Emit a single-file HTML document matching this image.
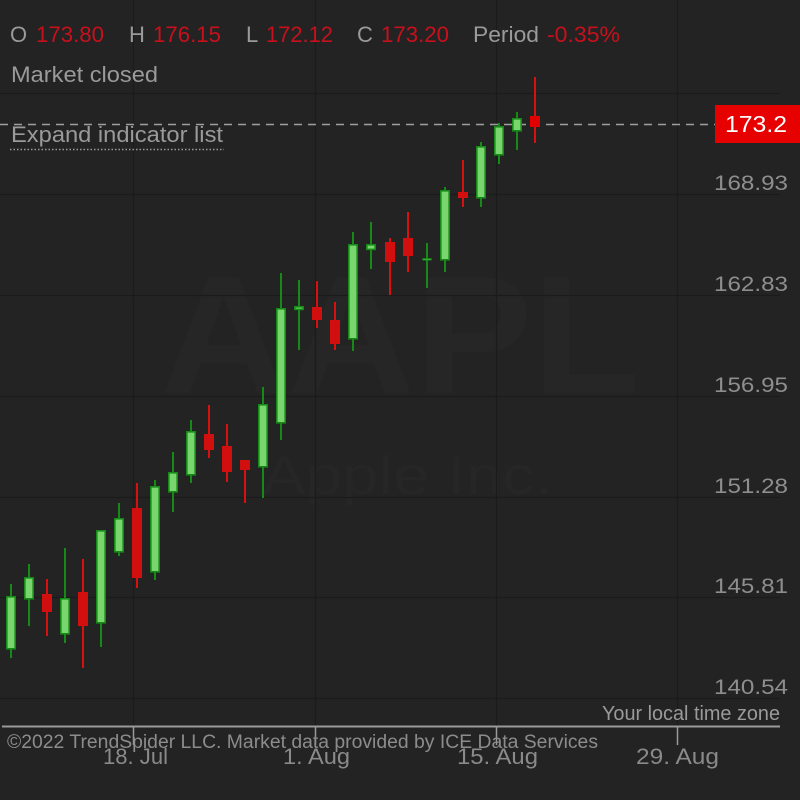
<!DOCTYPE html>
<html><head><meta charset="utf-8"><style>
html,body{margin:0;padding:0;background:#232323;}
svg{display:block;}
text{font-family:"Liberation Sans","DejaVu Sans",sans-serif;}
</style></head><body>
<svg width="800" height="800" viewBox="0 0 800 800" xmlns="http://www.w3.org/2000/svg">
<rect width="800" height="800" fill="#232323"/>
<!-- watermark -->
<text x="160" y="393" font-size="168" fill="#262626" font-weight="bold" textLength="480" lengthAdjust="spacingAndGlyphs">AAPL</text>
<text x="262" y="494" font-size="54" fill="#262626" textLength="291" lengthAdjust="spacingAndGlyphs">Apple Inc.</text>
<!-- grid -->
<g stroke="#1b1b1b" stroke-width="1.2">
<line x1="0" y1="93.5" x2="780" y2="93.5"/>
<line x1="0" y1="194.5" x2="780" y2="194.5"/>
<line x1="0" y1="295.5" x2="780" y2="295.5"/>
<line x1="0" y1="396.5" x2="780" y2="396.5"/>
<line x1="0" y1="497.5" x2="780" y2="497.5"/>
<line x1="0" y1="597.5" x2="780" y2="597.5"/>
<line x1="0" y1="698.5" x2="780" y2="698.5"/>
<line x1="133.5" y1="0" x2="133.5" y2="726"/>
<line x1="315.5" y1="0" x2="315.5" y2="726"/>
<line x1="496.5" y1="0" x2="496.5" y2="726"/>
<line x1="677.5" y1="0" x2="677.5" y2="726"/>
</g>
<!-- price line -->
<line x1="0" y1="124.5" x2="715" y2="124.5" stroke="#9e9e9e" stroke-width="1.5" stroke-dasharray="8 6"/>
<rect x="715" y="105" width="85" height="38" fill="#e60000"/>
<text x="725" y="132" font-size="23" fill="#ffffff" textLength="62" lengthAdjust="spacingAndGlyphs">173.2</text>
<!-- candles -->
<g id="candles">
<g stroke-width="2">
<line x1="11" y1="584" x2="11" y2="658" stroke="#168a16"/>
<line x1="29" y1="564" x2="29" y2="626" stroke="#168a16"/>
<line x1="47" y1="579" x2="47" y2="636" stroke="#d81010"/>
<line x1="65" y1="548" x2="65" y2="643" stroke="#168a16"/>
<line x1="83" y1="559" x2="83" y2="668" stroke="#d81010"/>
<line x1="101" y1="530" x2="101" y2="647" stroke="#168a16"/>
<line x1="119" y1="503" x2="119" y2="556" stroke="#168a16"/>
<line x1="137" y1="483" x2="137" y2="588" stroke="#d81010"/>
<line x1="155" y1="480" x2="155" y2="580" stroke="#168a16"/>
<line x1="173" y1="452" x2="173" y2="512" stroke="#168a16"/>
<line x1="191" y1="420" x2="191" y2="483" stroke="#168a16"/>
<line x1="209" y1="405" x2="209" y2="458" stroke="#d81010"/>
<line x1="227" y1="424" x2="227" y2="482" stroke="#d81010"/>
<line x1="245" y1="460" x2="245" y2="503" stroke="#d81010"/>
<line x1="263" y1="387" x2="263" y2="498" stroke="#168a16"/>
<line x1="281" y1="273" x2="281" y2="440" stroke="#168a16"/>
<line x1="299" y1="280" x2="299" y2="350" stroke="#168a16"/>
<line x1="317" y1="281" x2="317" y2="328" stroke="#d81010"/>
<line x1="335" y1="302" x2="335" y2="350" stroke="#d81010"/>
<line x1="353" y1="232" x2="353" y2="351" stroke="#168a16"/>
<line x1="371" y1="222" x2="371" y2="269" stroke="#168a16"/>
<line x1="390" y1="238" x2="390" y2="295" stroke="#d81010"/>
<line x1="408" y1="212" x2="408" y2="272" stroke="#d81010"/>
<line x1="427" y1="243" x2="427" y2="288" stroke="#168a16"/>
<line x1="445" y1="187" x2="445" y2="272" stroke="#168a16"/>
<line x1="463" y1="160" x2="463" y2="207" stroke="#d81010"/>
<line x1="481" y1="142" x2="481" y2="207" stroke="#168a16"/>
<line x1="499" y1="123" x2="499" y2="164" stroke="#168a16"/>
<line x1="517" y1="112" x2="517" y2="150" stroke="#168a16"/>
<line x1="535" y1="77" x2="535" y2="143" stroke="#d81010"/>
</g>
<g stroke-width="1.6">
<rect x="6.8" y="596.8" width="8.4" height="52" fill="#79d66e" stroke="#168a16"/>
<rect x="24.8" y="577.8" width="8.4" height="21" fill="#79d66e" stroke="#168a16"/>
<rect x="42" y="594" width="10" height="18" fill="#d10f0f"/>
<rect x="60.8" y="598.8" width="8.4" height="35" fill="#79d66e" stroke="#168a16"/>
<rect x="78" y="592" width="10" height="34" fill="#d10f0f"/>
<rect x="96.8" y="530.8" width="8.4" height="92" fill="#79d66e" stroke="#168a16"/>
<rect x="114.8" y="518.8" width="8.4" height="33" fill="#79d66e" stroke="#168a16"/>
<rect x="132" y="508" width="10" height="70" fill="#d10f0f"/>
<rect x="150.8" y="486.8" width="8.4" height="85" fill="#79d66e" stroke="#168a16"/>
<rect x="168.8" y="472.8" width="8.4" height="19" fill="#79d66e" stroke="#168a16"/>
<rect x="186.8" y="431.8" width="8.4" height="43" fill="#79d66e" stroke="#168a16"/>
<rect x="204" y="434" width="10" height="16" fill="#d10f0f"/>
<rect x="222" y="446" width="10" height="26" fill="#d10f0f"/>
<rect x="240" y="460" width="10" height="10" fill="#d10f0f"/>
<rect x="258.8" y="404.8" width="8.4" height="62" fill="#79d66e" stroke="#168a16"/>
<rect x="276.8" y="308.8" width="8.4" height="114" fill="#79d66e" stroke="#168a16"/>
<rect x="294.8" y="306.8" width="8.4" height="2.6" fill="#79d66e" stroke="#168a16"/>
<rect x="312" y="307" width="10" height="13" fill="#d10f0f"/>
<rect x="330" y="320" width="10" height="24" fill="#d10f0f"/>
<rect x="348.8" y="244.8" width="8.4" height="94" fill="#79d66e" stroke="#168a16"/>
<rect x="366.8" y="244.8" width="8.4" height="4.6" fill="#79d66e" stroke="#168a16"/>
<rect x="385" y="242" width="10" height="20" fill="#d10f0f"/>
<rect x="403" y="238" width="10" height="18" fill="#d10f0f"/>
<rect x="422.8" y="258.6" width="8.4" height="1.4" fill="#79d66e" stroke="#168a16" stroke-width="1"/>
<rect x="440.8" y="190.8" width="8.4" height="69" fill="#79d66e" stroke="#168a16"/>
<rect x="458" y="192" width="10" height="6" fill="#d10f0f"/>
<rect x="476.8" y="146.8" width="8.4" height="51" fill="#79d66e" stroke="#168a16"/>
<rect x="494.8" y="126.8" width="8.4" height="28" fill="#79d66e" stroke="#168a16"/>
<rect x="512.8" y="118.8" width="8.4" height="12" fill="#79d66e" stroke="#168a16"/>
<rect x="530" y="116" width="10" height="11" fill="#e00000"/>
</g>
</g>
<!-- y labels -->
<g font-size="21" fill="#8e8e8e" text-anchor="end">
<text x="788" y="190" textLength="74" lengthAdjust="spacingAndGlyphs">168.93</text>
<text x="788" y="291" textLength="74" lengthAdjust="spacingAndGlyphs">162.83</text>
<text x="788" y="392" textLength="74" lengthAdjust="spacingAndGlyphs">156.95</text>
<text x="788" y="493" textLength="74" lengthAdjust="spacingAndGlyphs">151.28</text>
<text x="788" y="593" textLength="74" lengthAdjust="spacingAndGlyphs">145.81</text>
<text x="788" y="694" textLength="74" lengthAdjust="spacingAndGlyphs">140.54</text>
</g>
<!-- header -->
<g font-size="22">
<text x="10" y="42" fill="#9a9a9a">O</text>
<text x="36" y="42" fill="#c8101c" textLength="68" lengthAdjust="spacingAndGlyphs">173.80</text>
<text x="129" y="42" fill="#9a9a9a">H</text>
<text x="153" y="42" fill="#c8101c" textLength="68" lengthAdjust="spacingAndGlyphs">176.15</text>
<text x="246" y="42" fill="#9a9a9a">L</text>
<text x="266" y="42" fill="#c8101c" textLength="67" lengthAdjust="spacingAndGlyphs">172.12</text>
<text x="357" y="42" fill="#9a9a9a">C</text>
<text x="381" y="42" fill="#c8101c" textLength="68" lengthAdjust="spacingAndGlyphs">173.20</text>
<text x="473" y="42" fill="#9a9a9a" textLength="66" lengthAdjust="spacingAndGlyphs">Period</text>
<text x="547" y="42" fill="#c8101c" textLength="73" lengthAdjust="spacingAndGlyphs">-0.35%</text>
<text x="11" y="82" fill="#9a9a9a" textLength="147" lengthAdjust="spacingAndGlyphs">Market closed</text>
<text x="11" y="142" fill="#9a9a9a" textLength="212" lengthAdjust="spacingAndGlyphs">Expand indicator list</text>
</g>
<line x1="10" y1="149.5" x2="224" y2="149.5" stroke="#9a9a9a" stroke-width="1.5" stroke-dasharray="1.5 2"/>
<!-- bottom axis -->
<text x="780" y="720" font-size="20" fill="#9a9a9a" text-anchor="end" textLength="178" lengthAdjust="spacingAndGlyphs">Your local time zone</text>
<line x1="2" y1="726.5" x2="780" y2="726.5" stroke="#9a9a9a" stroke-width="2"/>
<g stroke="#9a9a9a" stroke-width="1.5">
<line x1="133.5" y1="726" x2="133.5" y2="745"/>
<line x1="315.5" y1="726" x2="315.5" y2="745"/>
<line x1="496.5" y1="726" x2="496.5" y2="745"/>
<line x1="677.5" y1="726" x2="677.5" y2="745"/>
</g>
<g font-size="22" fill="#8a8a8a">
<text x="103" y="764" textLength="65" lengthAdjust="spacingAndGlyphs">18. Jul</text>
<text x="283" y="764" textLength="67" lengthAdjust="spacingAndGlyphs">1. Aug</text>
<text x="457" y="764" textLength="81" lengthAdjust="spacingAndGlyphs">15. Aug</text>
<text x="636" y="764" textLength="83" lengthAdjust="spacingAndGlyphs">29. Aug</text>
</g>
<text x="7" y="748" font-size="19" fill="#8c8c8c" textLength="591" lengthAdjust="spacingAndGlyphs">©2022 TrendSpider LLC. Market data provided by ICE Data Services</text>
</svg>
</body></html>
